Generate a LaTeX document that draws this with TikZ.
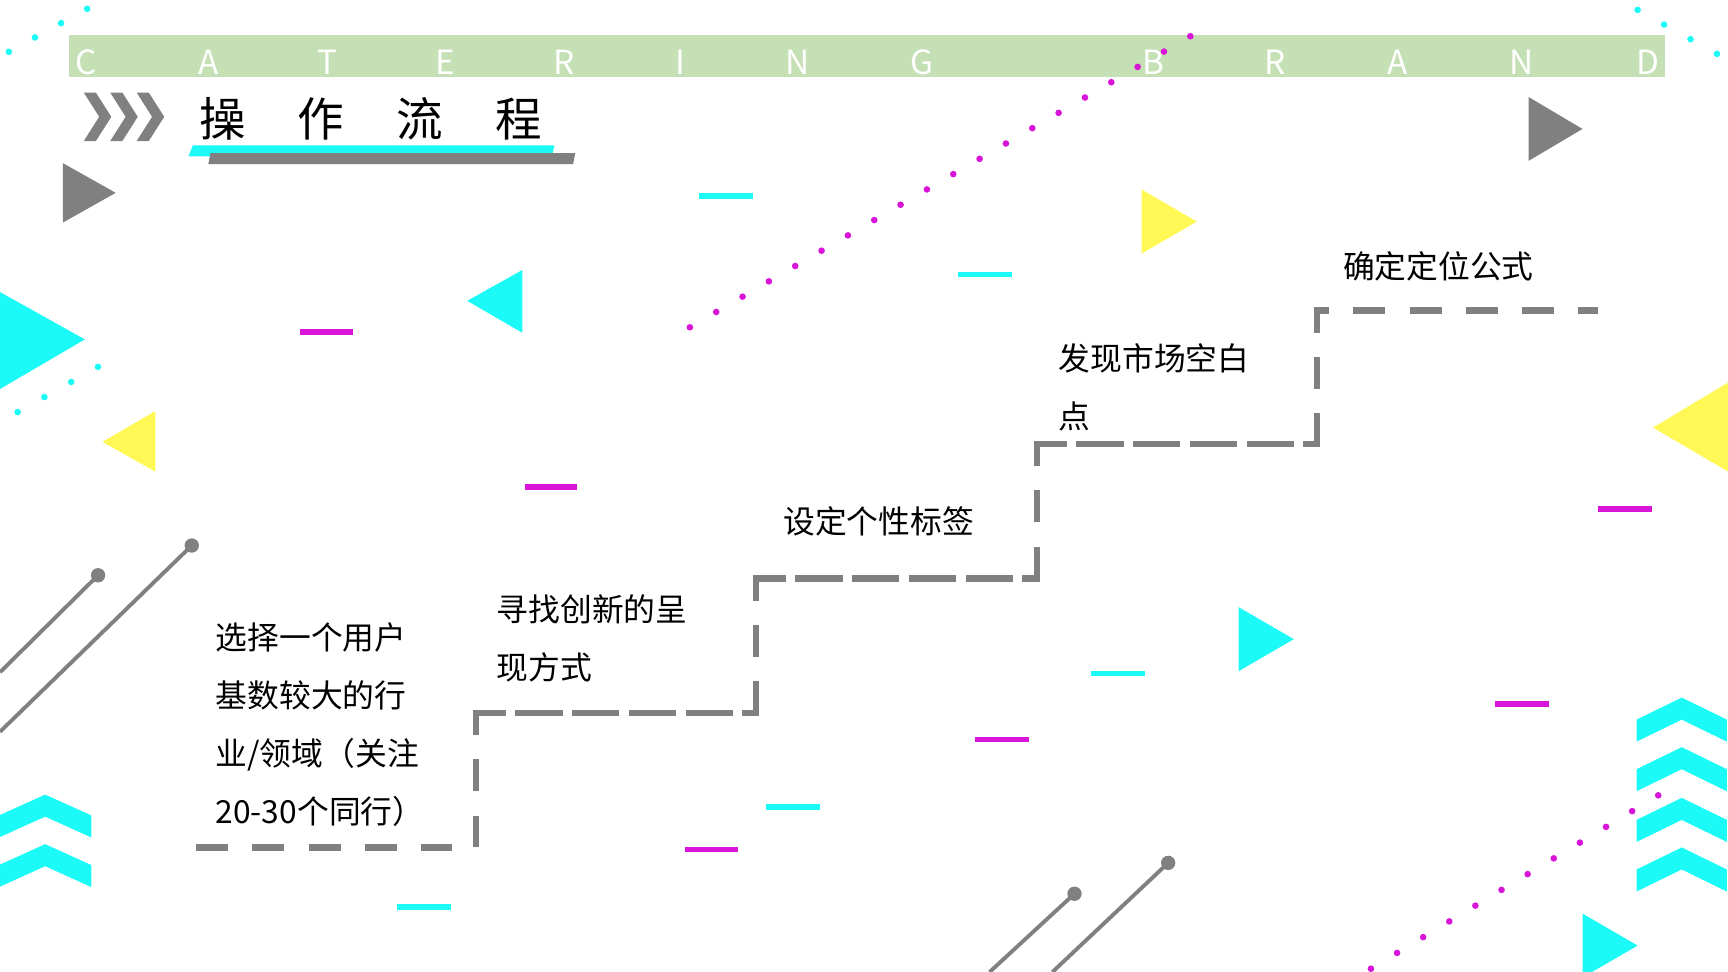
\documentclass[tikz,border=0pt]{standalone}
\usepackage{fontspec}
\setmainfont{Noto Sans CJK SC}
\definecolor{bannergreen}{RGB}{197,224,180}
\definecolor{brightcyan}{RGB}{28,250,247}
\definecolor{hotpink}{RGB}{215,20,215}
\definecolor{midgray}{RGB}{128,128,128}
\definecolor{lemon}{RGB}{255,248,85}

\begin{document}
\begin{tikzpicture}[x=0.01cm,y=-0.01cm,
    cyanbar/.style={draw=brightcyan,line width=1.45pt},
    pinkbar/.style={draw=hotpink,line width=1.45pt},
    stairline/.style={draw=midgray,line width=0.06cm},
    shortdash/.style={stairline,dash pattern=on 0.29cm off 0.22cm},
    longdash/.style={stairline,dash pattern=on 0.43cm off 0.085cm},
    pinline/.style={draw=midgray,line width=1pt},
    steptext/.style={anchor=north west,inner sep=0pt,align=left,
        font=\fontsize{8.2pt}{15pt}\selectfont},
    titlechar/.style={inner sep=0pt,font=\fontsize{12pt}{14pt}\selectfont},
    bannerletter/.style={anchor=base,inner sep=0pt,text=white,
        font=\fontsize{8.6pt}{10pt}\selectfont}]

\clip (0,0) rectangle (1568,882);

% banner
\fill[bannergreen] (63,32) rectangle (1511,70);
\foreach \c/\x [count=\n] in {C/78,A/189,T/297,E/404,R/512,I/617,N/724,G/837,
    B/1047,R/1157,A/1268,N/1381,D/1495}
    \node[bannerletter] (letter\n) at (\x,68) {\c};

% title
\foreach \i in {0,1,2}
    \fill[midgray] ({76+24*\i},84) -- ++(11,0) -- ++(14,22) -- ++(-14,22)
        -- ++(-11,0) -- ++(14,-22) -- cycle;
\foreach \c/\x [count=\n] in {操/202,作/291,流/381,程/471}
    \node[titlechar] (title\n) at (\x,108) {\c};
\fill[brightcyan] (175,132) -- (503,132) -- (501,142) -- (171,142) -- cycle;
\fill[midgray] (191,139) -- (522,139) -- (520,149) -- (189,149) -- cycle;

% triangles
\fill[midgray] (57,148) -- (57,202) -- (105,175) -- cycle;
\fill[midgray] (1387,88) -- (1387,146) -- (1436,117) -- cycle;
\fill[lemon] (1036,172) -- (1036,230) -- (1086,201) -- cycle;
\fill[brightcyan] (0,265) -- (0,353) -- (77,308) -- cycle;
\fill[lemon] (141,373) -- (141,428) -- (93,401) -- cycle;
\fill[brightcyan] (474,245) -- (474,302) -- (424,273) -- cycle;
\fill[lemon] (1570,346) -- (1570,429) -- (1500,388) -- cycle;
\fill[brightcyan] (1124,551) -- (1124,609) -- (1174,580) -- cycle;
\fill[brightcyan] (1436,829) -- (1436,887) -- (1486,858) -- cycle;

% chevrons
\foreach \y in {721,766}
    \fill[brightcyan] (41,\y) -- ++(42,19) -- ++(0,20) -- ++(-42,-19)
        -- ++(-42,19) -- ++(0,-20) -- cycle;
\foreach \y in {633,678,724,769}
    \fill[brightcyan] (1526,\y) -- ++(41,20) -- ++(0,20) -- ++(-41,-20)
        -- ++(-41,20) -- ++(0,-20) -- cycle;

% dots
\foreach \k in {0,...,3} {
    \fill[brightcyan] ({8+23.7*\k},{47-13*\k}) circle (0.03cm);
    \fill[brightcyan] ({1486+24*\k},{9+13.3*\k}) circle (0.03cm);
    \fill[brightcyan] ({16+24.3*\k},{374-13.7*\k}) circle (0.03cm);
}
\foreach \k in {0,...,19}
    \fill[hotpink] ({626+23.9*\k},{297-13.9*\k}) circle (0.03cm);
\foreach \k in {0,...,11}
    \fill[hotpink] ({1244+23.7*\k},{879-14.3*\k}) circle (0.03cm);

% short bars
\draw[cyanbar] (634,178) -- (683,178);
\draw[cyanbar] (869,249) -- (918,249);
\draw[cyanbar] (990,611) -- (1039,611);
\draw[cyanbar] (695,732) -- (744,732);
\draw[cyanbar] (360,823) -- (409,823);
\draw[pinkbar] (272,301) -- (320,301);
\draw[pinkbar] (476,442) -- (524,442);
\draw[pinkbar] (1450,462) -- (1499,462);
\draw[pinkbar] (885,671) -- (934,671);
\draw[pinkbar] (1357,639) -- (1406,639);
\draw[pinkbar] (622,771) -- (670,771);

% pins
\coordinate (P1) at (89,522);
\coordinate (P2) at (174,495);
\coordinate (P3) at (975,811);
\coordinate (P4) at (1060,783);
\draw[pinline] (0,610) -- (P1);
\draw[pinline] (0,664) -- (P2);
\draw[pinline] (898,882) -- (P3);
\draw[pinline] (955,882) -- (P4);
\foreach \p in {P1,P2,P3,P4}
    \fill[midgray] (\p) circle (0.065cm);

% stairs
\draw[shortdash] (178,769) -- (410,769);
\foreach \x/\y/\nx in {432/647/686,686/525/941,941/403/1195} {
    \draw[shortdash,dash phase=0.06cm] (\x,\y-3) -- (\x,\y+122);
    \draw[longdash,dash phase=0.13cm] (\x-3,\y) -- (\nx+3,\y);
}
\draw[shortdash,dash phase=0.06cm] (1195,279) -- (1195,403);
\draw[shortdash,dash phase=0.15cm] (1192,282) -- (1450,282);

\node[steptext] (step1) at (195,564) {选择一个用户\\基数较大的行\\业/领域（关注\\20-30个同行）};
\node[steptext] (step2) at (450,539) {寻找创新的呈\\现方式};
\node[steptext] (step3) at (710,459) {设定个性标签};
\node[steptext] (step4) at (960,311) {发现市场空白\\点};
\node[steptext] (step5) at (1218,228) {确定定位公式};

\end{tikzpicture}
\end{document}
